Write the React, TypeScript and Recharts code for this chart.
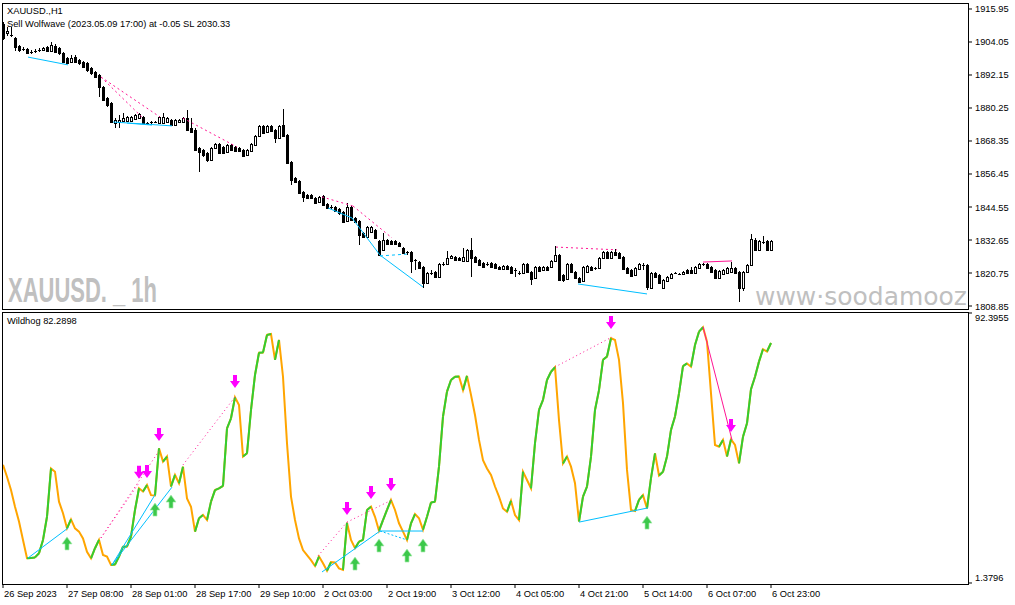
import React from "react"
import { ComposedChart, Bar, Line, Scatter, XAxis, YAxis, ReferenceLine } from "recharts"

const W = 1015
const H = 605
const FONT = "'Liberation Sans', Arial, sans-serif"

const priceTicks = [1808.85, 1820.75, 1832.65, 1844.55, 1856.45, 1868.35, 1880.25, 1892.15, 1904.05, 1915.95]
const oscTicks = [1.3796, 92.3955]
const timeTicks = [0, 16, 32, 48, 64, 80, 96, 112, 128, 144, 160, 176, 192]
const timeLabels = [
    "26 Sep 2023", "27 Sep 08:00", "28 Sep 01:00", "28 Sep 17:00", "29 Sep 10:00", "2 Oct 03:00", "2 Oct 19:00",
    "3 Oct 12:00", "4 Oct 05:00", "4 Oct 21:00", "5 Oct 14:00", "6 Oct 07:00", "6 Oct 23:00",
]

// XAUUSD H1 candles
const open = [
    1910.5, 1907.3, 1906.2, 1905.5, 1902.6, 1901.5, 1901.5, 1900.4, 1900.8, 1901.2, 1901.2, 1902.3, 1900.8, 1902.6, 1901.9, 1900.1,
    1898.3, 1896.8, 1898.6, 1897.6, 1896.8, 1896.5, 1894.7, 1893.2, 1892.2, 1887.8, 1883.9, 1882.1, 1874.8, 1875.2, 1875.6, 1875.6,
    1875.6, 1876.3, 1876.6, 1877.0, 1874.8, 1875.2, 1875.2, 1874.8, 1874.8, 1875.2, 1875.9, 1874.1, 1875.2, 1875.2, 1876.6, 1873.0,
    1872.3, 1865.8, 1865.1, 1864.0, 1861.5, 1865.8, 1867.3, 1866.2, 1864.4, 1866.9, 1866.2, 1865.8, 1865.1, 1863.3, 1864.8, 1866.9,
    1870.2, 1873.8, 1871.6, 1873.8, 1872.3, 1869.4, 1874.1, 1870.5, 1860.8, 1855.0, 1853.9, 1850.0, 1848.9, 1848.9, 1847.8, 1846.4,
    1848.5, 1845.6, 1844.6, 1844.6, 1843.8, 1842.8, 1839.5, 1844.6, 1840.6, 1839.5, 1835.2, 1833.7, 1835.5, 1836.3, 1832.3, 1829.1,
    1832.7, 1832.3, 1832.3, 1831.6, 1829.8, 1828.3, 1828.3, 1825.4, 1824.7, 1822.9, 1817.1, 1820.8, 1821.1, 1819.3, 1824.0, 1824.0,
    1826.2, 1826.5, 1826.2, 1825.1, 1825.1, 1829.1, 1826.5, 1825.4, 1824.4, 1824.0, 1824.4, 1824.0, 1822.9, 1822.2, 1823.3, 1822.9,
    1821.8, 1820.8, 1820.8, 1824.0, 1821.1, 1819.0, 1822.9, 1821.8, 1822.9, 1822.9, 1825.1, 1827.2, 1820.0, 1818.6, 1824.0, 1821.1,
    1819.0, 1817.9, 1821.1, 1822.9, 1822.6, 1822.6, 1826.2, 1828.3, 1826.2, 1828.3, 1828.0, 1826.5, 1822.6, 1821.8, 1820.0, 1822.2,
    1823.6, 1823.6, 1815.3, 1820.8, 1820.0, 1815.3, 1817.9, 1819.0, 1820.8, 1820.4, 1820.4, 1821.8, 1821.8, 1820.8, 1822.6, 1824.0,
    1824.0, 1822.9, 1821.8, 1819.0, 1820.4, 1820.8, 1821.1, 1822.6, 1821.1, 1815.3, 1821.1, 1823.6, 1832.7, 1829.1, 1831.9, 1832.3,
    1829.1,
]
const high = [
    1911.3, 1909.5, 1909.5, 1905.9, 1903.0, 1902.3, 1901.9, 1901.2, 1901.5, 1901.9, 1902.3, 1902.6, 1904.1, 1903.3, 1902.3, 1900.4,
    1898.6, 1899.4, 1899.4, 1897.9, 1897.2, 1896.8, 1895.0, 1893.6, 1892.5, 1888.2, 1884.2, 1882.4, 1876.6, 1877.7, 1878.5, 1877.4,
    1877.4, 1878.1, 1878.5, 1877.4, 1875.2, 1875.6, 1875.6, 1877.4, 1878.5, 1877.0, 1876.3, 1876.3, 1876.3, 1877.0, 1879.5, 1876.6,
    1873.0, 1866.2, 1865.5, 1864.4, 1866.2, 1867.6, 1867.6, 1866.6, 1867.3, 1867.3, 1866.6, 1866.2, 1865.5, 1865.5, 1867.6, 1870.5,
    1874.1, 1874.1, 1874.1, 1874.1, 1872.7, 1874.1, 1879.9, 1870.9, 1861.1, 1855.4, 1854.3, 1850.3, 1849.2, 1849.2, 1848.2, 1848.5,
    1848.9, 1846.0, 1845.3, 1844.9, 1844.2, 1843.1, 1846.0, 1844.9, 1841.0, 1839.9, 1835.5, 1837.7, 1837.7, 1836.6, 1832.7, 1835.2,
    1833.0, 1832.7, 1832.7, 1831.9, 1830.1, 1828.7, 1828.7, 1825.8, 1825.1, 1823.3, 1821.1, 1821.8, 1821.5, 1824.4, 1824.7, 1828.7,
    1827.2, 1826.9, 1826.5, 1829.8, 1829.4, 1833.4, 1826.9, 1825.8, 1824.7, 1824.7, 1824.7, 1824.4, 1823.3, 1823.6, 1823.6, 1823.3,
    1822.6, 1821.5, 1824.4, 1824.4, 1821.5, 1823.3, 1823.3, 1823.3, 1823.3, 1825.4, 1830.5, 1827.6, 1820.4, 1824.4, 1824.4, 1821.5,
    1819.3, 1823.3, 1823.6, 1823.3, 1822.9, 1826.5, 1828.7, 1828.7, 1828.7, 1829.4, 1828.3, 1826.9, 1822.9, 1822.2, 1822.9, 1824.4,
    1824.4, 1824.0, 1821.1, 1821.1, 1820.4, 1818.6, 1819.7, 1820.8, 1821.1, 1820.8, 1821.5, 1822.2, 1822.9, 1823.3, 1824.4, 1824.4,
    1824.4, 1823.3, 1822.2, 1821.8, 1822.2, 1822.9, 1824.7, 1822.9, 1821.5, 1821.5, 1824.0, 1834.8, 1833.4, 1832.7, 1834.1, 1832.7,
    1832.7,
]
const low = [
    1904.8, 1906.2, 1905.9, 1900.8, 1900.4, 1900.8, 1899.7, 1899.7, 1900.1, 1900.4, 1900.8, 1900.4, 1900.4, 1900.1, 1899.4, 1896.5,
    1896.1, 1896.5, 1896.5, 1895.8, 1894.7, 1893.2, 1892.2, 1891.1, 1884.2, 1882.8, 1880.6, 1874.8, 1873.0, 1873.0, 1875.2, 1875.2,
    1875.2, 1875.9, 1876.3, 1874.5, 1874.1, 1874.5, 1874.8, 1874.5, 1874.5, 1874.8, 1873.8, 1873.8, 1874.8, 1874.8, 1872.0, 1871.2,
    1864.8, 1857.2, 1862.6, 1860.8, 1861.1, 1865.5, 1863.7, 1863.7, 1864.0, 1864.8, 1864.4, 1864.4, 1862.6, 1863.0, 1864.4, 1866.6,
    1869.8, 1870.9, 1871.2, 1871.6, 1867.6, 1869.1, 1869.8, 1860.1, 1852.5, 1853.2, 1849.2, 1846.4, 1847.4, 1847.4, 1845.6, 1846.0,
    1844.9, 1843.8, 1843.8, 1842.8, 1841.7, 1838.8, 1839.1, 1839.5, 1838.8, 1830.9, 1833.4, 1833.4, 1835.2, 1833.0, 1826.9, 1828.7,
    1830.9, 1830.9, 1830.9, 1830.1, 1827.6, 1827.2, 1820.8, 1821.8, 1822.2, 1815.3, 1816.8, 1820.0, 1819.0, 1819.0, 1823.3, 1823.6,
    1825.8, 1825.1, 1825.1, 1824.7, 1824.7, 1819.3, 1824.4, 1823.3, 1822.6, 1823.3, 1822.6, 1822.2, 1821.8, 1821.8, 1821.8, 1820.4,
    1819.3, 1820.0, 1820.4, 1820.8, 1816.4, 1818.6, 1821.1, 1821.5, 1821.5, 1822.6, 1824.7, 1817.9, 1817.5, 1818.2, 1820.8, 1818.6,
    1817.1, 1817.5, 1820.8, 1821.5, 1821.8, 1822.2, 1825.8, 1825.8, 1825.8, 1826.9, 1825.8, 1821.8, 1820.4, 1819.3, 1819.7, 1821.8,
    1821.8, 1814.6, 1815.0, 1819.0, 1816.8, 1815.0, 1817.5, 1818.6, 1820.4, 1820.0, 1820.0, 1820.4, 1820.4, 1820.4, 1822.2, 1823.3,
    1822.2, 1820.8, 1818.6, 1818.6, 1820.0, 1820.4, 1820.8, 1820.4, 1810.3, 1814.3, 1820.8, 1823.3, 1828.7, 1828.7, 1831.2, 1828.7,
    1828.7,
]
const close = [
    1905.5, 1908.0, 1906.6, 1902.3, 1901.2, 1901.4, 1900.1, 1900.3, 1900.7, 1901.1, 1901.9, 1900.8, 1903.0, 1900.4, 1900.1, 1896.8,
    1896.5, 1898.3, 1896.8, 1896.5, 1895.0, 1894.0, 1892.9, 1891.4, 1887.8, 1883.1, 1881.3, 1875.2, 1875.9, 1875.9, 1876.6, 1877.0,
    1877.0, 1877.7, 1878.1, 1874.8, 1874.7, 1875.1, 1875.0, 1877.0, 1877.0, 1876.6, 1874.1, 1875.9, 1875.9, 1876.6, 1872.3, 1871.6,
    1865.1, 1864.4, 1863.3, 1861.5, 1865.8, 1867.3, 1864.0, 1864.0, 1866.9, 1865.1, 1864.8, 1864.8, 1863.0, 1865.1, 1867.3, 1870.2,
    1873.8, 1871.2, 1873.8, 1872.0, 1869.4, 1873.8, 1870.2, 1860.4, 1854.3, 1853.6, 1849.6, 1848.2, 1847.8, 1847.8, 1846.0, 1848.2,
    1845.3, 1844.2, 1844.4, 1843.1, 1842.4, 1839.1, 1844.6, 1839.9, 1839.1, 1834.5, 1833.7, 1837.3, 1837.3, 1833.4, 1827.2, 1832.7,
    1831.2, 1831.2, 1831.2, 1830.5, 1828.0, 1828.2, 1825.1, 1825.3, 1822.6, 1817.1, 1820.8, 1820.6, 1819.3, 1824.0, 1823.8, 1826.2,
    1826.9, 1825.4, 1825.4, 1826.5, 1829.1, 1826.2, 1824.7, 1823.6, 1822.9, 1823.8, 1822.9, 1822.6, 1822.2, 1823.3, 1822.2, 1820.8,
    1821.7, 1820.6, 1824.0, 1821.1, 1818.6, 1822.9, 1821.5, 1822.9, 1821.8, 1825.1, 1827.2, 1818.2, 1818.2, 1824.0, 1821.1, 1819.0,
    1817.5, 1822.9, 1823.3, 1821.8, 1822.4, 1826.2, 1828.3, 1826.2, 1828.3, 1827.2, 1826.2, 1822.2, 1820.8, 1819.7, 1822.6, 1824.0,
    1823.5, 1815.7, 1820.8, 1819.3, 1817.1, 1818.2, 1819.3, 1820.4, 1820.7, 1820.3, 1821.1, 1820.8, 1820.8, 1822.9, 1824.0, 1823.8,
    1822.6, 1821.1, 1819.0, 1821.5, 1821.8, 1822.6, 1822.6, 1820.8, 1815.3, 1821.1, 1823.6, 1833.0, 1829.1, 1832.3, 1831.8, 1829.1,
    1832.3,
]

// Wildhog oscillator
const wildhog = [
    41.2, 37.2, 32.7, 27.1, 22.1, 15.9, 9.7, 9.8, 10.0, 11.4, 15.9, 23.7, 40.0, 38.9, 28.8, 24.9,
    19.8, 22.8, 19.8, 18.7, 16.4, 11.9, 9.7, 13.1, 15.9, 10.8, 10.3, 7.5, 7.6, 10.3, 13.6, 13.7,
    17.0, 26.0, 33.3, 32.2, 34.4, 31.0, 30.9, 46.8, 42.3, 44.0, 33.9, 37.8, 35.0, 40.6, 29.9, 27.1,
    18.7, 23.2, 24.3, 22.6, 28.8, 32.7, 33.3, 34.1, 53.5, 56.9, 64.0, 61.4, 44.0, 45.1, 59.7, 71.5,
    79.0, 79.1, 85.0, 85.3, 76.6, 83.3, 70.9, 48.5, 30.5, 22.6, 16.4, 12.5, 10.8, 9.1, 7.1, 10.3,
    8.0, 5.5, 8.4, 8.3, 6.3, 5.8, 21.7, 15.9, 13.1, 15.3, 15.9, 26.0, 27.1, 23.7, 19.0, 22.6,
    26.0, 29.4, 26.0, 21.5, 18.7, 15.9, 21.5, 24.6, 23.2, 19.3, 23.7, 28.5, 28.8, 40.6, 57.5, 65.9,
    69.8, 70.9, 71.0, 66.4, 71.2, 64.8, 58.0, 49.6, 42.8, 40.0, 37.8, 33.9, 30.5, 26.5, 25.4, 29.1,
    24.3, 22.6, 38.9, 36.1, 33.3, 48.5, 59.7, 63.1, 69.8, 72.6, 74.1, 56.3, 41.7, 44.0, 40.6, 35.0,
    22.1, 30.5, 33.9, 44.0, 59.7, 66.4, 76.6, 77.7, 83.9, 83.3, 76.6, 62.0, 39.5, 26.0, 25.6, 29.4,
    31.0, 26.5, 36.7, 45.1, 37.6, 38.9, 44.0, 53.0, 57.5, 65.3, 74.5, 75.4, 74.3, 81.6, 86.1, 87.6,
    82.7, 65.3, 47.9, 47.3, 49.6, 44.0, 49.8, 47.9, 41.7, 50.7, 55.2, 66.7, 70.9, 76.0, 80.2, 79.4,
    82.29,
]

const downArrowIdx = [34, 36, 39, 58, 86, 92, 97, 152, 182]
const downArrowVal = [38.5, 38.8, 51.3, 69.1, 26.3, 31.7, 34.4, 89.0, 54.3]
const upArrowIdx = [16, 38, 42, 88, 94, 101, 105, 161]
const upArrowVal = [14.9, 26.3, 29.0, 8.1, 14.2, 10.8, 14.2, 21.9]

// wolfwave lines: [bar0, value0, bar1, value1]
const priceCyan = [
    [6.25, 1898.6, 16.25, 1895.8], [27.5, 1875.2, 42.25, 1873.8], [31, 1874.8, 37.25, 1874.1],
    [81.25, 1844.2, 87.25, 1840.6], [87.25, 1840.6, 94.25, 1827.2], [94.25, 1827.2, 105, 1815.7],
    [143.75, 1816.8, 161, 1813.2],
]
const priceCyanDash = [[94.25, 1826.9, 101.25, 1827.6]]
const pricePinkDash = [
    [24.5, 1891.4, 35, 1876.6], [24.5, 1891.4, 39.25, 1877.0], [45, 1876.6, 58.5, 1866.2],
    [79.75, 1848.2, 87.5, 1844.9], [87.5, 1844.9, 97.25, 1833.4], [138.25, 1830.1, 153.5, 1829.1],
]
const pricePink = [[175, 1824.7, 182.25, 1825.1]]

const oscCyan = [
    [6.25, 9.8, 16.25, 19.9], [27.25, 7.5, 38, 31.1], [27.25, 7.5, 42.25, 33.7],
    [79.75, 5.1, 94.25, 18.9], [94.25, 18.9, 105, 18.9], [144, 21.9, 161.25, 26.7],
]
const oscCyanDash = [[94.25, 18.9, 101, 15.9]]
const oscPinkDot = [
    [24.5, 16.6, 34, 35.1], [24.5, 16.6, 39, 45.9], [45, 41.2, 58, 64.1],
    [78.75, 10.5, 86, 21.9], [86, 21.9, 97.25, 29.4], [138, 74.2, 152.25, 84.3],
]
const oscPink = [[175, 87.7, 182.25, 49.6]]

const candles = open.map((o, i) => ({ i, o, h: high[i], l: low[i], c: close[i], range: [low[i], high[i]] }))
const oscData = wildhog.map((v, i) => ({ i, v }))
const downArrows = downArrowIdx.map((i, k) => ({ i, v: downArrowVal[k] }))
const upArrows = upArrowIdx.map((i, k) => ({ i, v: upArrowVal[k] }))

const GREEN = "#32CD32"
const ORANGE = "#FFA500"
const CYAN = "#00BFFF"
const PINK = "#FF1493"

const seg = (s: number[]) => [{ x: s[0], y: s[1] }, { x: s[2], y: s[3] }]

const Candle = (props: any) => {
    const { x, y, width, height, payload } = props
    if (x == null || y == null) return null
    const { o, h, l, c } = payload
    const cx = Math.round(x + width / 2)
    const span = h - l || 1
    const py = (p: number) => y + ((h - p) / span) * height
    const top = Math.round(py(Math.max(o, c)))
    const bot = Math.round(py(Math.min(o, c)))
    const wTop = Math.round(y)
    const wBot = Math.round(y + height)
    let body
    if (bot - top < 2) {
        body = <rect x={cx - 1} y={top} width={3} height={1} fill="#000" />
    } else if (c < o) {
        body = <rect x={cx - 1} y={top} width={3} height={bot - top + 1} fill="#000" />
    } else {
        body = <rect x={cx - 0.5} y={top + 0.5} width={2} height={bot - top} fill="#fff" stroke="#000" strokeWidth={1} />
    }
    return (
        <g>
            <rect x={cx} y={wTop} width={1} height={Math.max(1, wBot - wTop)} fill="#000" />
            {body}
        </g>
    )
}

const DownArrow = (props: any) => {
    const { cx, cy } = props
    if (cx == null || cy == null) return null
    return (
        <polygon
            points={`${cx - 2},${cy - 7} ${cx + 2},${cy - 7} ${cx + 2},${cy - 1} ${cx + 5},${cy - 1} ${cx},${cy + 6} ${cx - 5},${cy - 1} ${cx - 2},${cy - 1}`}
            fill="#FF00FF"
        />
    )
}

const UpArrow = (props: any) => {
    const { cx, cy } = props
    if (cx == null || cy == null) return null
    return (
        <polygon
            points={`${cx - 2},${cy + 7} ${cx + 2},${cy + 7} ${cx + 2},${cy + 1} ${cx + 5},${cy + 1} ${cx},${cy - 6} ${cx - 5},${cy + 1} ${cx - 2},${cy + 1}`}
            fill="#3CC84A"
            stroke="#a6ecae"
            strokeWidth={0.7}
        />
    )
}

const PriceTick = (props: any) => (
    <text x={props.x} y={props.y} dy={3.5} fontSize={9.3} fontFamily={FONT} fill="#000" textAnchor="start">
        {Number(props.payload.value).toFixed(2)}
    </text>
)

const OscTick = (props: any) => {
    const v = Number(props.payload.value)
    const shift = v > 50 ? 5 : -5
    return (
        <text x={props.x} y={props.y + shift} dy={3.5} fontSize={9.3} fontFamily={FONT} fill="#000" textAnchor="start">
            {v.toFixed(4)}
        </text>
    )
}

const TimeTick = (props: any) => {
    const k = timeTicks.indexOf(Number(props.payload.value))
    return (
        <text x={props.x + 1} y={props.y} dy="0.71em" fontSize={9.3} fontFamily={FONT} fill="#000" textAnchor="start">
            {timeLabels[k]}
        </text>
    )
}

const frame = (top: number, height: number): React.CSSProperties => ({
    position: "absolute",
    left: 2,
    top,
    width: 967,
    height,
    border: "1px solid #000",
    boxSizing: "border-box",
    pointerEvents: "none",
})

export default function App() {
    return (
        <div style={{ position: "absolute", left: 0, top: 0, width: W, height: H, background: "#fff", overflow: "hidden" }}>
            <svg width={W} height={H} style={{ position: "absolute", left: 0, top: 0 }}>
                <defs>
                    <clipPath id="upperClip">
                        <rect x={2} y={3} width={966} height={306} />
                    </clipPath>
                </defs>
                <text x={8} y={302} fontFamily="'Liberation Sans Narrow', 'Liberation Sans', sans-serif" fontWeight="bold" fontSize={35} fill="#c0c0c0" textLength={149} lengthAdjust="spacingAndGlyphs">
                    XAUUSD. _ 1h
                </text>
                <g clipPath="url(#upperClip)">
                    <text x={755} y={305} fontFamily="'DejaVu Sans', sans-serif" fontSize={25} fill="#c0c0c0" textLength={212} lengthAdjust="spacingAndGlyphs">
                        www·soodamooz
                    </text>
                </g>
                <text x={7} y={14} fontFamily={FONT} fontSize={9.3} fill="#000">XAUUSD.,H1</text>
                <text x={7} y={27} fontFamily={FONT} fontSize={9.3} fill="#000">Sell Wolfwave (2023.05.09 17:00) at -0.05 SL 2030.33</text>
                <text x={7} y={324} fontFamily={FONT} fontSize={9.3} fill="#000">Wildhog 82.2898</text>
            </svg>

            <div style={{ position: "absolute", left: 0, top: 0 }}>
                <ComposedChart width={W} height={312} data={candles} margin={{ top: 3, right: 0, bottom: 3, left: 2 }}>
                    <XAxis dataKey="i" type="number" domain={[-0.25, 241.25]} allowDataOverflow hide />
                    <YAxis
                        orientation="right"
                        width={47}
                        type="number"
                        domain={[1807.77, 1918.11]}
                        allowDataOverflow
                        ticks={priceTicks}
                        interval={0}
                        tickSize={4}
                        tickMargin={3}
                        axisLine={false}
                        tickLine={{ stroke: "#000" }}
                        tick={<PriceTick />}
                    />
                    <Bar dataKey="range" barSize={3} shape={<Candle />} isAnimationActive={false} />
                    {priceCyan.map((s, k) => (
                        <ReferenceLine key={`pc${k}`} segment={seg(s)} stroke={CYAN} strokeWidth={1} />
                    ))}
                    {priceCyanDash.map((s, k) => (
                        <ReferenceLine key={`pcd${k}`} segment={seg(s)} stroke={CYAN} strokeWidth={1} strokeDasharray="3 3" />
                    ))}
                    {pricePinkDash.map((s, k) => (
                        <ReferenceLine key={`ppd${k}`} segment={seg(s)} stroke={PINK} strokeWidth={1} strokeDasharray="2 3" />
                    ))}
                    {pricePink.map((s, k) => (
                        <ReferenceLine key={`pp${k}`} segment={seg(s)} stroke={PINK} strokeWidth={1} />
                    ))}
                </ComposedChart>
            </div>

            <div style={{ position: "absolute", left: 0, top: 312 }}>
                <ComposedChart width={W} height={293} data={oscData} margin={{ top: 0, right: 0, bottom: 0, left: 2 }}>
                    <XAxis
                        dataKey="i"
                        type="number"
                        domain={[-0.25, 241.25]}
                        allowDataOverflow
                        ticks={timeTicks}
                        interval={0}
                        height={21}
                        tickSize={4}
                        tickMargin={2}
                        axisLine={false}
                        tickLine={{ stroke: "#000" }}
                        tick={<TimeTick />}
                    />
                    <YAxis
                        orientation="right"
                        width={47}
                        type="number"
                        domain={[1.04, 92.73]}
                        allowDataOverflow
                        ticks={oscTicks}
                        interval={0}
                        tickSize={4}
                        tickMargin={3}
                        axisLine={false}
                        tickLine={{ stroke: "#000" }}
                        tick={<OscTick />}
                    />
                    <Line dataKey="v" type="linear" stroke={ORANGE} strokeWidth={2} dot={false} activeDot={false} isAnimationActive={false} />
                    {wildhog.map((v, i) =>
                        i > 0 && v >= wildhog[i - 1] ? (
                            <ReferenceLine key={`g${i}`} segment={[{ x: i - 1, y: wildhog[i - 1] }, { x: i, y: v }]} stroke={GREEN} strokeWidth={2} />
                        ) : null,
                    )}
                    {oscCyan.map((s, k) => (
                        <ReferenceLine key={`oc${k}`} segment={seg(s)} stroke={CYAN} strokeWidth={1} />
                    ))}
                    {oscCyanDash.map((s, k) => (
                        <ReferenceLine key={`ocd${k}`} segment={seg(s)} stroke={CYAN} strokeWidth={1} strokeDasharray="2 2" />
                    ))}
                    {oscPinkDot.map((s, k) => (
                        <ReferenceLine key={`opd${k}`} segment={seg(s)} stroke={PINK} strokeWidth={1} strokeDasharray="1 3" />
                    ))}
                    {oscPink.map((s, k) => (
                        <ReferenceLine key={`op${k}`} segment={seg(s)} stroke={PINK} strokeWidth={1} />
                    ))}
                    <Scatter data={downArrows} dataKey="v" shape={<DownArrow />} isAnimationActive={false} />
                    <Scatter data={upArrows} dataKey="v" shape={<UpArrow />} isAnimationActive={false} />
                </ComposedChart>
            </div>

            <div style={frame(3, 307)} />
            <div style={frame(312, 273)} />
        </div>
    )
}
